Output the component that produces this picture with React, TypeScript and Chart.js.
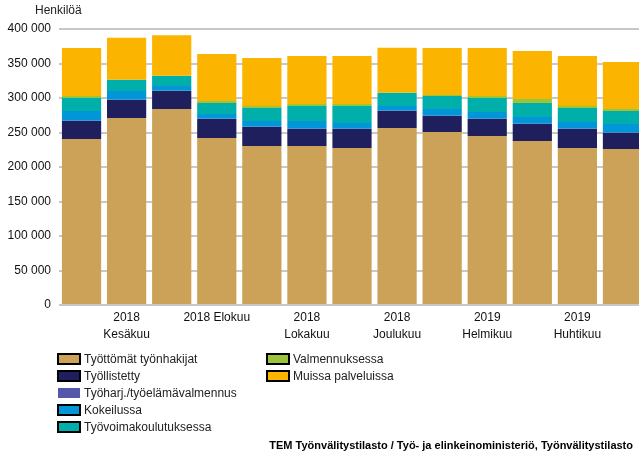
import React, { useEffect, useRef } from "react";
import { Chart, registerables } from "chart.js";

Chart.register(...registerables);

const categories = [
  "2018 Toukokuu", "2018 Kesäkuu", "2018 Heinäkuu", "2018 Elokuu", "2018 Syyskuu",
  "2018 Lokakuu", "2018 Marraskuu", "2018 Joulukuu", "2019 Tammikuu", "2019 Helmikuu",
  "2019 Maaliskuu", "2019 Huhtikuu", "2019 Toukokuu",
];

const tickLabels: (string | string[])[] = [
  "", ["2018", "Kesäkuu"], "", "2018 Elokuu", "", ["2018", "Lokakuu"], "",
  ["2018", "Joulukuu"], "", ["2019", "Helmikuu"], "", ["2019", "Huhtikuu"], "",
];

const yTicks = [0, 50000, 100000, 150000, 200000, 250000, 300000, 350000, 400000];

const tyottomat = [240600, 271000, 284100, 242000, 230400, 230400, 227500, 256500, 250700, 244900, 237700, 227500, 226100];
const tyollistetty = [26100, 26100, 26000, 27600, 27600, 24700, 27600, 24700, 23200, 24700, 24600, 27600, 23200];
const tyoharj = [300, 300, 300, 300, 300, 300, 300, 300, 300, 300, 300, 300, 300];
const kokeilussa = [14200, 12700, 7000, 6900, 8400, 11300, 8400, 6900, 9900, 9800, 9900, 9800, 12700];
const tyovoima = [18800, 16000, 14500, 16000, 18800, 21700, 24600, 18800, 18800, 20300, 20300, 20300, 18900];
const valmennus = [2900, 500, 500, 2900, 2900, 2900, 2900, 500, 1400, 2900, 5800, 2900, 2900];
const muissa = [69600, 60900, 58400, 68100, 69600, 69600, 69600, 65300, 68200, 69600, 69500, 72500, 68100];

const seriesNames = [
  "Työttömät työnhakijat",
  "Työllistetty",
  "Työharj./työelämävalmennus",
  "Kokeilussa",
  "Työvoimakoulutuksessa",
  "Valmennuksessa",
  "Muissa palveluissa",
];
const seriesColors = ["#CBA258", "#201F5E", "#5558A8", "#0096D8", "#00AFAA", "#9CC43B", "#FBB500"];
const seriesData = [tyottomat, tyollistetty, tyoharj, kokeilussa, tyovoima, valmennus, muissa];

const sourceText = "TEM Työnvälitystilasto / Työ- ja elinkeinoministeriö, Työnvälitystilasto";
const yTitle = "Henkilöä";

const FONT = '"Liberation Sans", Arial, sans-serif';

const fmt = (v: number) => {
  const s = Math.round(v).toString();
  return s.replace(/\B(?=(\d{3})+(?!\d))/g, " ");
};

const extrasPlugin = {
  id: "extras",
  afterDraw(chart: any) {
    const ctx = chart.ctx as CanvasRenderingContext2D;
    ctx.save();
    ctx.fillStyle = "#222";
    ctx.font = `12px ${FONT}`;
    ctx.textBaseline = "middle";
    ctx.textAlign = "left";
    ctx.fillText(yTitle, 35, 11);

    // legend
    const rowsY = [359, 376, 393, 410, 427];
    chart.data.datasets.forEach((ds: any, i: number) => {
      const col = i < 5 ? 0 : 1;
      const row = i < 5 ? i : i - 5;
      const bx = col === 0 ? 58 : 267;
      const by = rowsY[row] - 5;
      ctx.fillStyle = ds.backgroundColor;
      ctx.fillRect(bx, by, 22, 10);
      if (i !== 2) {
        ctx.strokeStyle = "#000";
        ctx.lineWidth = 2;
        ctx.strokeRect(bx, by, 22, 10);
      }
      ctx.fillStyle = "#222";
      ctx.font = `12px ${FONT}`;
      ctx.textAlign = "left";
      ctx.fillText(ds.label, bx + 26, rowsY[row] + 0.5);
    });

    ctx.font = `bold 11px ${FONT}`;
    ctx.fillStyle = "#000";
    ctx.textAlign = "right";
    ctx.fillText(sourceText, 633, 446);
    ctx.restore();
  },
};

export default function App() {
  const ref = useRef<HTMLCanvasElement>(null);
  useEffect(() => {
    document.body.style.margin = "0";
    document.body.style.overflow = "hidden";
    if (!ref.current) return;
    const chart = new Chart(ref.current, {
      type: "bar",
      data: {
        labels: categories,
        datasets: seriesNames.map((name, i) => ({
          label: name,
          data: seriesData[i],
          backgroundColor: seriesColors[i],
          borderWidth: 0,
          barPercentage: 0.87,
          categoryPercentage: 1,
        })),
      },
      options: {
        animation: false,
        responsive: false,
        layout: { padding: { top: 29, right: 0, bottom: 0, left: 0 } },
        plugins: { legend: { display: false }, tooltip: { enabled: false } },
        scales: {
          x: {
            stacked: true,
            grid: { display: false, drawTicks: false },
            border: { display: false },
            afterFit: (s: any) => { s.height = 149; },
            ticks: {
              autoSkip: false,
              maxRotation: 0,
              padding: 4,
              color: "#111",
              font: { family: FONT, size: 12, lineHeight: 1.4 },
              callback: (_v: any, i: number) => tickLabels[i],
            },
          },
          y: {
            stacked: true,
            min: 0,
            max: 400000,
            afterFit: (s: any) => { s.width = 59; },
            afterBuildTicks: (s: any) => { s.ticks = yTicks.map((v) => ({ value: v })); },
            grid: { color: "#c8c8c8", lineWidth: 2, drawTicks: false },
            border: { display: false },
            ticks: {
              padding: 8,
              color: "#111",
              font: { family: FONT, size: 12 },
              callback: (v: any) => fmt(Number(v)),
            },
          },
        },
      },
      plugins: [extrasPlugin],
    });
    return () => chart.destroy();
  }, []);
  return (
    <div style={{ width: 639, height: 454, overflow: "hidden", position: "relative", background: "#fff" }}>
      <canvas ref={ref} width={645} height={454} style={{ display: "block" }} />
    </div>
  );
}
